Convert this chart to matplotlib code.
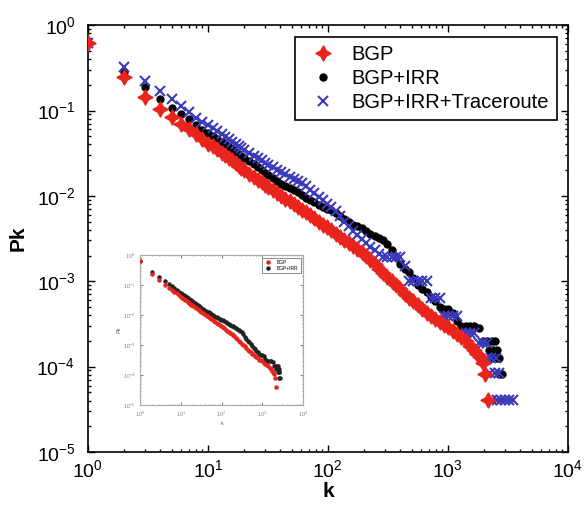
import matplotlib
matplotlib.use("Agg")
import matplotlib.pyplot as plt

plt.rcParams['font.family'] = ['Liberation Sans', 'DejaVu Sans']

# degree distribution, BGP only
bgp_k = [1, 2, 3, 4, 5, 6, 7, 8, 9, 10, 11, 12, 13, 14, 15, 16, 17, 18, 19, 20,
         22, 24, 26, 28, 30, 32, 35, 38, 41, 44, 48, 52, 56, 61, 66, 71, 77, 84,
         91, 99, 107, 116, 126, 137, 149, 162, 176, 191, 207, 225, 245, 266, 289,
         314, 341, 371, 403, 438, 476, 517, 562, 611, 664, 722, 785, 853, 927,
         1008, 1096, 1191, 1295, 1408, 1530, 1663, 1750, 1850, 1950, 2050, 2150]
bgp_p = [.62, .245, .144, .104, .083, .069, .060, .053, .046,
         .041, .038, .035, .032, .030, .028, .026, .024, .0225, .021, .020,
         .0182, .0168, .0155, .0144, .0135, .0126, .0116, .0107, .0099, .0093,
         .0086, .0080, .0075, .0069, .0064, .0059, .0055, .0050, .0046, .0043,
         .0040, .0036, .0033, .0030, .0028, .0026, .0024, .0022, .0020, .00178,
         .00158, .00140, .00125, .00112, .00100, .00090, .00080, .00071, .00064,
         .00058, .00052, .00047, .00043, .00039, .00036, .00033, .00031, .00029,
         .00026, .00024, .00022, .00020, .000175, .000155, .000140, .000128,
         .000110, .000082, .000041]

# BGP + IRR
irr_k = [1, 2, 3, 4, 5, 6, 7, 8, 9, 10, 11, 12, 13, 14, 15, 16, 17, 18, 19, 20,
         22, 24, 26, 28, 30, 32, 35, 38, 41, 44, 48, 52, 56, 61, 66, 71, 77, 84,
         91, 99, 107, 116, 126, 137, 149, 162, 176, 191, 207, 225, 245, 266, 289,
         314, 341, 371, 403, 438, 476, 517, 562, 611, 664, 722, 785, 853, 927,
         1008, 1096, 1191, 1295, 1408, 1530, 1663, 1810, 1970, 2140, 2330, 2450,
         2200, 2400, 2550, 2400, 2550, 2650, 2650, 2800]
irr_p = [.62, .28, .19, .135, .106, .092, .080, .068, .059,
         .054, .050, .046, .043, .040, .037, .035, .033, .031, .0295, .028,
         .0255, .0234, .0216, .0200, .0187, .0176, .0161, .0149, .0138, .0130,
         .0124, .0117, .0110, .0102, .0095, .0089, .0084, .0079, .0075, .0071,
         .0068, .0063, .0058, .0053, .0049, .0046, .0044, .0042, .0039, .0036,
         .0034, .0032, .0030, .0027, .0023, .0019, .0016, .0014, .0013, .0011,
         .00090, .00081, .00075, .00065, .00058, .00050, .00047, .00047, .00042,
         .00034, .00030, .00030, .00030, .00030, .00028, .00020, .00020, .00020,
         .00020, .000157, .000157, .000157, .000125, .000125, .000125, .000082,
         .000082]

# BGP + IRR + Traceroute
trc_k = [1, 2, 3, 4, 5, 6, 7, 8, 9, 10, 11, 12, 13, 14, 15, 16, 17, 18, 19, 20,
         22, 24, 26, 28, 30, 32, 35, 38, 41, 44, 48, 52, 56, 61, 66, 71, 77, 84,
         91, 99, 107, 116, 126, 137, 149, 162, 176, 191, 207, 225, 245, 266, 289,
         314, 341, 371, 403, 438, 476, 517, 562, 611, 664, 722, 785, 853, 927,
         1008, 1096, 1191, 1295, 1408, 1530, 1663, 1810, 1970, 2140, 2100, 2300,
         2500, 2250, 2450, 2650, 2350, 2550, 2750, 3000, 3250, 3500]
trc_p = [.62, .32, .22, .17, .135, .112, .095, .082, .074,
         .068, .062, .057, .053, .049, .046, .043, .040, .038, .036, .034,
         .0315, .0295, .0278, .0260, .0245, .0232, .0215, .0202, .0190, .0180,
         .0168, .0158, .0150, .0140, .0129, .0118, .0108, .0098, .0089, .0081,
         .0075, .0067, .0058, .0050, .0044, .0039, .0035, .0031, .0028, .0025,
         .0023, .0021, .0019, .0019, .0019, .0019, .0019, .0015, .0010, .0010,
         .0010, .0010, .0010, .00063, .00063, .00063, .00039, .00039, .00039,
         .00039, .00025, .00025, .00025, .00025, .000187, .000187, .000187,
         .000125, .000125, .000125, .000083, .000083, .000083, .000041, .000041,
         .000041, .000041, .000041, .000041]

labels = ['BGP', 'BGP+IRR', 'BGP+IRR+Traceroute']

fig = plt.figure(figsize=(5.86, 5.13), dpi=100)
ax = fig.add_axes([0.150, 0.119, 0.819, 0.832])

ax.plot(bgp_k, bgp_p, ls='none', marker=(4, 1, 0), ms=11, color='#e8241c',
        mec='#e8241c', label=labels[0], zorder=3)
ax.plot(irr_k, irr_p, ls='none', marker='o', ms=5, color='black',
        label=labels[1], zorder=2)
ax.plot(trc_k, trc_p, ls='none', marker='x', ms=7, mew=1.5, color='#3a3aba',
        label=labels[2], zorder=2.5)

ax.set_xscale('log')
ax.set_yscale('log')
ax.set_xlim(1, 1e4)
ax.set_ylim(1e-5, 1)
ax.tick_params(which='both', direction='in', top=True, right=True,
               labelsize=14, width=1)
ax.tick_params(which='major', length=5)
ax.tick_params(which='minor', length=2.5)
ax.tick_params(axis='y', pad=9)
ax.tick_params(axis='x', pad=5)
for s in ax.spines.values():
    s.set_linewidth(1.2)
ax.set_xlabel('k', fontsize=15, fontweight='bold', labelpad=1)
ax.set_ylabel('Pk', fontsize=15, fontweight='bold', labelpad=6)

leg = ax.legend(loc='upper right', fontsize=14.5, fancybox=False,
                edgecolor='black', framealpha=1, handletextpad=0.4,
                borderpad=0.4, labelspacing=0.25, borderaxespad=0,
                bbox_to_anchor=(0.977, 0.972))
leg.get_frame().set_linewidth(1.2)

# inset with the older data set
axi = fig.add_axes([0.239, 0.2105, 0.278, 0.292])
axi.plot(bgp_k, bgp_p, ls='none', marker='o', ms=2.2, color='#e8241c',
         label='BGP', zorder=3)
axi.plot(irr_k, irr_p, ls='none', marker='o', ms=2.2, color='#222222',
         label='BGP+IRR', zorder=2)
axi.set_xscale('log')
axi.set_yscale('log')
axi.set_xlim(1, 1e4)
axi.set_ylim(1e-5, 1)
axi.tick_params(which='both', direction='in', top=True, right=True,
                labelsize=4, colors='#888888', length=2)
axi.tick_params(which='minor', length=1)
for s in axi.spines.values():
    s.set_color('#aaaaaa')
    s.set_linewidth(0.8)
axi.set_xlabel('k', fontsize=4, color='#666666', labelpad=1)
axi.set_ylabel('Pk', fontsize=4, color='#666666', labelpad=1)
li = axi.legend(loc='upper right', fontsize=3.5, fancybox=False,
                edgecolor='#777777', framealpha=1, markerscale=1,
                borderpad=0.4, labelspacing=0.3)
li.get_frame().set_linewidth(0.6)

fig.savefig('out.png', dpi=100)
